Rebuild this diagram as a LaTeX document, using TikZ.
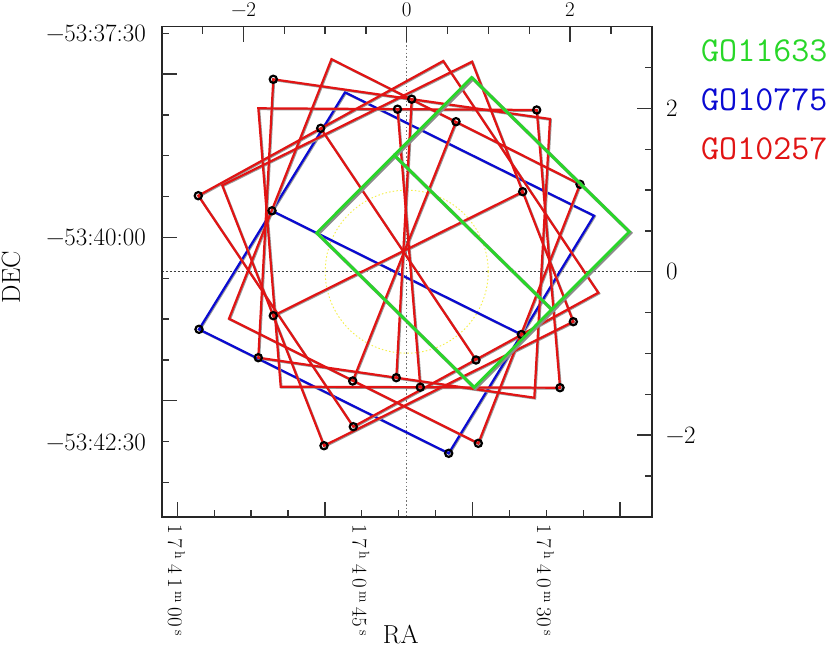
\documentclass[tikz,border=0pt]{standalone}
\usepackage{fontspec}
\definecolor{mygreen}{RGB}{40,215,40}
\definecolor{myblue}{RGB}{10,10,210}
\definecolor{myred}{RGB}{225,20,20}
\definecolor{myyellow}{RGB}{245,240,70}
\newcommand\fDec{\fontsize{25}{30}\selectfont}
\newcommand\fTop{\fontsize{21}{24}\selectfont}
\newcommand\fAxisName{\fontsize{26}{30}\selectfont}
\newcommand\fRaTick{\fontsize{21}{24}\selectfont}
\newcommand\fLegend{\ttfamily\fontsize{35}{40}\selectfont}
\newcommand\sps[1]{\raisebox{7pt}{\fontsize{14}{14}\selectfont #1}}
\newcommand\ralab[3]{1\kern5pt 7\kern3pt\sps{h}\kern5pt #1\kern5pt #2\kern3pt\sps{m}\kern5pt #3\kern3pt\sps{s}}
\tikzset{
  frameline/.style={line width=1.6pt, draw=black!85},
  tickline/.style={line width=1.3pt, draw=black!80},
  acsblue/.style={draw=myblue, line width=2.2pt, line join=miter},
  acsred/.style={draw=myred, line width=2.2pt, line join=miter},
  lineshade/.style={draw=black!40, line width=2.2pt, line join=miter},
  greenshade/.style={draw=black!45, line width=3.4pt, line join=miter},
  wfcgreen/.style={draw=mygreen, line width=2.8pt, line join=miter},
  ringmark/.style={draw=black, line width=2.2pt},
}
\newcommand\greenfield[1]{%
  \draw[#1] (316.7,232.8) -- (394.2,155.2) -- (551.7,309.5) -- (474,387.3) -- cycle;
  \draw[#1] (394.2,155.2) -- (471.7,77.5) -- (629.3,231.7) -- (551.7,309.5);
}
\newcommand\bluefield[1]{%
  \draw[#1] (199,329.3) -- (272,210.8) -- (521.4,334.5) -- (448.7,453.3) -- cycle;
  \draw[#1] (272,210.8) -- (345,92.3) -- (594,215.7) -- (521.4,334.5);
}
\newcommand\redfields[1]{%
  \draw[#1] (273.3,79.3) -- (550,119) -- (534.3,397.7) -- (258.3,357.7) -- cycle;
  \draw[#1] (411.7,99.2) -- (396.3,377.7);
  \draw[#1] (258.3,108.3) -- (536.7,110) -- (560,387.7) -- (280.7,386.7) -- cycle;
  \draw[#1] (397.5,109.2) -- (420.3,387.2);
  \draw[#1] (198.3,195.7) -- (443.2,61) -- (598.3,292.7) -- (353.3,426.7) -- cycle;
  \draw[#1] (320.7,128.3) -- (476,360);
  \draw[#1] (331.5,59.2) -- (580,184.3) -- (478.3,443.3) -- (229,318.7) -- cycle;
  \draw[#1] (456,121.7) -- (352.7,381);
  \draw[#1] (222.2,185.3) -- (472,61.7) -- (573.3,321.7) -- (324,445.7) -- cycle;
  \draw[#1] (273.3,315.7) -- (522.7,191.7);
}
\begin{document}
\begin{tikzpicture}[x=1pt,y=-1pt]
\useasboundingbox (0,0) rectangle (830,650);
\fill[white] (0,0) rectangle (830,650);

% centre lines and circle
\draw[black!55, line width=1pt, dash pattern=on 1.5pt off 2.2pt] (406.7,26.7) -- (406.7,516.7);
\draw[black!75, line width=0.9pt, dash pattern=on 2pt off 2pt] (161.7,271.7) -- (651.7,271.7);
\draw[myyellow, line width=0.9pt, dash pattern=on 1.5pt off 2.2pt] (406.7,271.7) circle[radius=81.5];

% fields
\begin{scope}[shift={(0.8,0.8)}]\bluefield{lineshade}\end{scope}
\bluefield{acsblue}
\begin{scope}[shift={(0.8,0.8)}]\redfields{lineshade}\end{scope}
\redfields{acsred}

% markers
\foreach \p in {(199,329.3),(272,210.8),(521.4,334.5),(448.7,453.3),
  (273.3,79.3),(411.7,99.2),(396.3,377.7),(258.3,357.7),
  (536.7,110),(397.5,109.2),(420.3,387.2),(560,387.7),
  (198.3,195.7),(320.7,128.3),(476,360),(353.3,426.7),
  (456,121.7),(580,184.3),(478.3,443.3),(352.7,381),
  (273.3,315.7),(522.7,191.7),(573.3,321.7),(324,445.7)}
  \draw[ringmark] \p circle[radius=3.6];

\begin{scope}[shift={(1.2,1.2)}]\greenfield{greenshade}\end{scope}
\greenfield{wfcgreen}

% frame
\draw[frameline] (161.7,26.7) rectangle (651.7,516.7);

% ticks
\foreach \k/\l in {0/7,1/15,2/7,3/7,4/7,5/15,6/7,7/7,8/7,9/15,10/7,11/7}
  \draw[tickline] (161.7,{33.3+40.83*\k}) -- ++(\l,0);
\foreach \k/\l in {-5/7,-4/15,-3/7,-2/7,-1/7,0/15,1/7,2/7,3/7,4/15,5/7}
  \draw[tickline] (651.7,{271.7+40.83*\k}) -- ++(-\l,0);
\foreach \k/\l in {-5/7,-4/15,-3/7,-2/7,-1/7,0/15,1/7,2/7,3/7,4/15,5/7}
  \draw[tickline] ({406.7+40.83*\k},26.7) -- ++(0,\l);
\foreach \k/\l in {0/15,1/7,2/7,3/7,4/15,5/7,6/7,7/7,8/15,9/7,10/7,11/7,12/15}
  \draw[tickline] ({177.3+36.9*\k},516.7) -- ++(0,-\l);

% left labels
\node[anchor=east, font=\fDec, inner sep=0] (dec1) at (146,33.3) {−53:37:30};
\node[anchor=east, font=\fDec, inner sep=0] (dec2) at (146,237.5) {−53:40:00};
\node[anchor=east, font=\fDec, inner sep=0] (dec3) at (146,442) {−53:42:30};
\node[rotate=90, font=\fAxisName, inner sep=0] (decname) at (11,277) {DEC};

% top labels
\node[font=\fTop, inner sep=0] (top1) at (243.7,9.5) {−2};
\node[font=\fTop, inner sep=0] (top2) at (406.7,9.5) {0};
\node[font=\fTop, inner sep=0] (top3) at (570,9.5) {2};

% right labels
\node[anchor=west, font=\fDec, inner sep=0] (rt1) at (666,108.7) {2};
\node[anchor=west, font=\fDec, inner sep=0] (rt2) at (666,271.7) {0};
\node[anchor=west, font=\fDec, inner sep=0] (rt3) at (666,435) {−2};

% bottom labels
\node[rotate=-90, anchor=base west, font=\fRaTick, inner sep=0] (ra1) at (168,524) {\ralab{4}{1}{00}};
\node[rotate=-90, anchor=base west, font=\fRaTick, inner sep=0] (ra2) at (352.5,524) {\ralab{4}{0}{45}};
\node[rotate=-90, anchor=base west, font=\fRaTick, inner sep=0] (ra3) at (537,524) {\ralab{4}{0}{30}};
\node[font=\fAxisName, inner sep=0] (raname) at (400.7,635) {RA};

% legend
\node[anchor=west, font=\fLegend, text=mygreen, inner sep=0] (leg1) at (701,51) {GO11633};
\node[anchor=west, font=\fLegend, text=myblue, inner sep=0] (leg2) at (701,100) {GO10775};
\node[anchor=west, font=\fLegend, text=myred, inner sep=0] (leg3) at (701,149) {GO10257};
\end{tikzpicture}
\end{document}
